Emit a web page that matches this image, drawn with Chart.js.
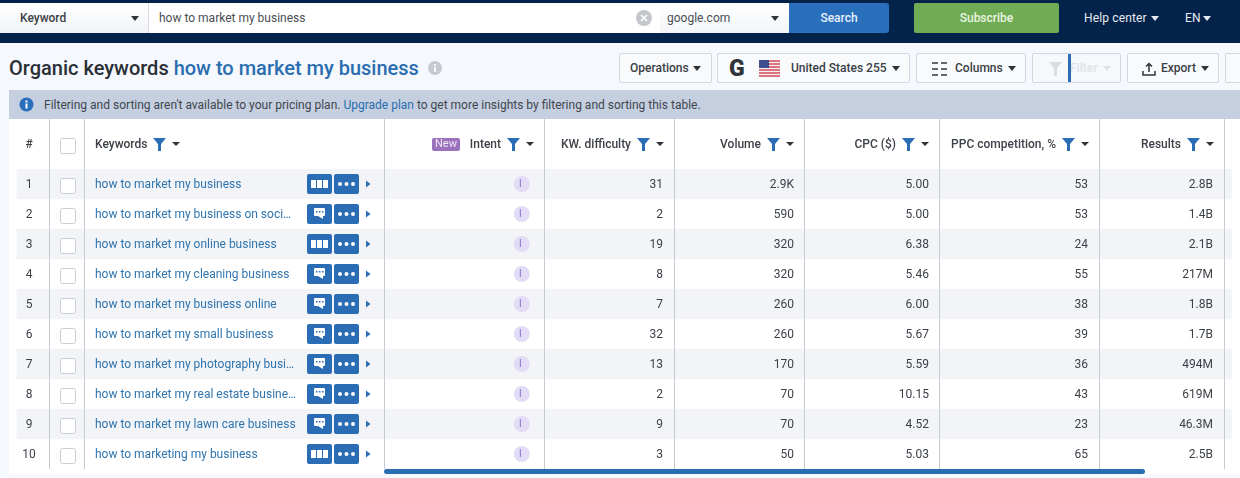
<!DOCTYPE html>
<html>
<head>
<meta charset="utf-8">
<title>Organic keywords</title>
<script src="https://cdn.jsdelivr.net/npm/chart.js@4/dist/chart.umd.js"></script>
<style>
  html, body { margin: 0; padding: 0; }
  body { width: 1240px; height: 478px; overflow: hidden; position: relative; background: #f5f8fc; font-family: Roboto, sans-serif; font-size: 12px; color: #33383f; }
  .abs { position: absolute; box-sizing: border-box; white-space: nowrap; }
  .mid { display: flex; align-items: center; }
  .topbar { left: 0; top: 0; width: 1240px; height: 43px; background: #03234b; }
  .field { top: 3px; height: 30px; background: #fff; }
  .btn { top: 53px; height: 30px; background: #f8fafc; border: 1px solid #d3d8df; border-radius: 2px; font-weight: 500; color: #3a3f46; }
  .arrow { position: absolute; width: 0; height: 0; border-left: 4.5px solid transparent; border-right: 4.5px solid transparent; border-top: 5px solid #2f343a; }
  #chart { position: absolute; left: 0; top: 0; }
</style>
</head>
<body>
<div class="abs topbar"></div>
<div class="abs field mid" style="left:149px;width:511px;padding-left:10px;color:#4a4f55">how to market my business
  <svg style="position:absolute;left:487px;top:7px" width="16" height="16"><circle cx="8" cy="8" r="8" fill="#c4c7cc"/><path d="M5 5l6 6M11 5l-6 6" stroke="#fff" stroke-width="1.6"/></svg></div>
<div class="abs field" style="left:0;width:149px;background:linear-gradient(#fff,#f2f4f7);border-right:1px solid #d6dbe2"></div>
<div class="abs mid" style="left:20px;top:3px;height:30px;font-weight:500;color:#3a3f46">Keyword</div>
<i class="arrow" style="left:131px;top:16px"></i>
<div class="abs field mid" style="left:660px;width:129px;padding-left:7px;background:linear-gradient(#fff,#f3f5f8);color:#4a4f55">google.com</div>
<i class="arrow" style="left:771px;top:16px"></i>
<div class="abs field mid" style="left:789px;width:100px;justify-content:center;background:#2a6fbb;color:#e6f0fa;font-weight:500;border-radius:0 3px 3px 0">Search</div>
<div class="abs field mid" style="left:914px;width:145px;justify-content:center;background:#6fac53;color:#e9f4e2;font-weight:500;border-radius:2px">Subscribe</div>
<div class="abs mid" style="left:1084px;top:3px;height:30px;color:#e6ebf2;letter-spacing:.15px">Help center</div>
<i class="arrow" style="left:1151px;top:16px;border-top-color:#e6ebf2"></i>
<div class="abs mid" style="left:1185px;top:3px;height:30px;color:#e6ebf2;letter-spacing:.3px">EN</div>
<i class="arrow" style="left:1203px;top:16px;border-top-color:#e6ebf2"></i>

<div class="abs" style="left:9px;top:55px;font-size:20px;line-height:26px;font-weight:500;color:#2a2f36">Organic keywords <span style="color:#2a6db0">how to market my business</span></div>
<svg class="abs" style="left:428px;top:61px" width="14" height="14"><circle cx="7" cy="7" r="7" fill="#c5c9d0"/><rect x="6" y="6" width="2" height="5" fill="#f5f8fc"/><rect x="6" y="3" width="2" height="2" fill="#f5f8fc"/></svg>

<div class="abs btn mid" style="left:619px;width:93px;padding-left:10px">Operations<i class="arrow" style="left:73px;top:12px"></i></div>
<div class="abs btn mid" style="left:717px;width:193px;padding-left:73px">United States 255<i class="arrow" style="left:174px;top:12px"></i>
  <span style="position:absolute;left:11px;top:1px;font:900 23px Roboto;color:#2f343a">G</span>
  <svg style="position:absolute;left:41px;top:6px" width="21" height="17"><rect width="21" height="17" fill="#f2f2f4"/><path d="M0 1h21M0 4h21M0 7h21M0 10h21M0 13h21M0 16h21" stroke="#d8495a" stroke-width="1.4"/><rect width="10" height="8" fill="#3d4f8f"/></svg></div>
<div class="abs btn mid" style="left:916px;width:110px;padding-left:38px">Columns<i class="arrow" style="left:91px;top:12px"></i>
  <svg style="position:absolute;left:15px;top:8px" width="15" height="14"><path d="M0 1h6M9 1h6M0 7h6M9 7h6M0 13h6M9 13h6" stroke="#33383f" stroke-width="1.6"/></svg></div>
<div class="abs btn mid" style="left:1032px;width:89px;padding-left:37px;color:#dfe3e8;background:#f6f8fb">Filter<i class="arrow" style="left:70px;top:12px;border-top-color:#dfe3e8"></i>
  <svg style="position:absolute;left:16px;top:8px" width="13" height="14"><path d="M0 0h13L8 6v8H5V6z" fill="#d9dde2"/></svg>
  <span style="position:absolute;left:35px;top:0;width:3px;height:28px;background:#2a6db0"></span></div>
<div class="abs btn mid" style="left:1127px;width:92px;padding-left:33px">Export<i class="arrow" style="left:73px;top:12px"></i>
  <svg style="position:absolute;left:14px;top:8px" width="14" height="14"><path d="M7 10V2M4 4.5L7 1.5l3 3M1 9v4h12V9" stroke="#2f343a" stroke-width="1.5" fill="none"/></svg></div>
<div class="abs btn" style="left:1225px;width:30px"></div>

<div class="abs mid" style="left:9px;top:90px;width:1231px;height:29px;background:#c5cfdf;padding-left:35px;color:#3f4650">Filtering and sorting aren't available to your pricing plan.&nbsp;<span style="color:#2a6db0">Upgrade plan</span>&nbsp;to get more insights by filtering and sorting this table.</div>
<svg class="abs" style="left:19px;top:97px" width="15" height="15"><circle cx="7.5" cy="7.5" r="7" fill="#2a6fbb"/><rect x="6.5" y="6.5" width="2" height="5" fill="#fff"/><rect x="6.5" y="3.5" width="2" height="2" fill="#fff"/></svg>

<div class="abs" style="left:9px;top:119px;width:1231px;height:355px;background:#fff"></div>
<canvas id="chart" width="1240" height="478"></canvas>
<div class="abs" style="left:384px;top:469px;width:761px;height:5px;background:#2a6db0;border-radius:2.5px"></div>

<script>
// Table data
const rowLabels = ['1', '2', '3', '4', '5', '6', '7', '8', '9', '10'];
const keywords = [
    'how to market my business',
    'how to market my business on soci…',
    'how to market my online business',
    'how to market my cleaning business',
    'how to market my business online',
    'how to market my small business',
    'how to market my photography busi…',
    'how to market my real estate busine…',
    'how to market my lawn care business',
    'how to marketing my business'
];
const hasSerp = [true, false, true, false, false, false, false, false, false, true];
const intents = ['I', 'I', 'I', 'I', 'I', 'I', 'I', 'I', 'I', 'I'];
const difficulty = [31, 2, 19, 8, 7, 32, 13, 2, 9, 3];
const volume = ['2.9K', '590', '320', '320', '260', '260', '170', '70', '70', '50'];
const cpc = ['5.00', '5.00', '6.38', '5.46', '6.00', '5.67', '5.59', '10.15', '4.52', '5.03'];
const competition = [53, 53, 24, 55, 38, 39, 36, 43, 23, 65];
const results = ['2.8B', '1.4B', '2.1B', '217M', '1.8B', '1.7B', '494M', '619M', '46.3M', '2.5B'];

// Layout, in page pixels: the x scale runs over the whole width of the page
const columnEdges = [49, 84, 384, 544, 674, 804, 939, 1099, 1224];
const tableLeft = 9;
const tableRight = 1240;
const intentX = 520.5;
const headerY = 144;
const textShift = 1;
const numericColumns = [
    { title: 'KW. difficulty', values: difficulty, right: 663, titleRight: 631 },
    { title: 'Volume', values: volume, right: 794, titleRight: 761 },
    { title: 'CPC ($)', values: cpc, right: 929, titleRight: 896 },
    { title: 'PPC competition, %', values: competition, right: 1088, titleRight: 1056 },
    { title: 'Results', values: results, right: 1213, titleRight: 1181 }
];

const BLUE = '#2a6db5';

function drawText(ctx, text, x, y, font, color, align) {
    ctx.font = font;
    ctx.fillStyle = color;
    ctx.textAlign = align || 'left';
    ctx.textBaseline = 'middle';
    ctx.fillText(text, x, y + textShift);
}

function drawFilter(ctx, x, y) {
    // blue funnel and the dark sort arrow next to it
    ctx.fillStyle = BLUE;
    ctx.beginPath();
    ctx.moveTo(x, y - 6);
    ctx.lineTo(x + 13, y - 6);
    ctx.lineTo(x + 8, y);
    ctx.lineTo(x + 8, y + 7);
    ctx.lineTo(x + 5, y + 7);
    ctx.lineTo(x + 5, y);
    ctx.closePath();
    ctx.fill();
    ctx.fillStyle = '#2f343a';
    ctx.beginPath();
    ctx.moveTo(x + 19, y - 2);
    ctx.lineTo(x + 27, y - 2);
    ctx.lineTo(x + 23, y + 2);
    ctx.closePath();
    ctx.fill();
}

function drawCheckbox(ctx, x, y) {
    ctx.fillStyle = '#fff';
    ctx.strokeStyle = '#c9cdd4';
    ctx.lineWidth = 1;
    ctx.beginPath();
    ctx.roundRect(x + 0.5, y - 7.5, 15, 15, 2);
    ctx.fill();
    ctx.stroke();
}

function drawRowButtons(ctx, y, serp) {
    ctx.fillStyle = BLUE;
    ctx.beginPath();
    ctx.roundRect(307, y - 10, 25, 20, 2);
    ctx.roundRect(334, y - 10, 25, 20, 2);
    ctx.fill();
    ctx.fillStyle = '#fff';
    if (serp) {
        [311, 317, 323].forEach(x => ctx.fillRect(x, y - 4, 5, 8));
    } else {
        ctx.beginPath();
        ctx.roundRect(314, y - 6, 11, 8, 1);
        ctx.moveTo(318, y + 2);
        ctx.lineTo(323, y + 2);
        ctx.lineTo(323, y + 5);
        ctx.closePath();
        ctx.fill();
        ctx.fillStyle = BLUE;
        [316, 319, 322].forEach(x => ctx.fillRect(x, y - 3, 1.5, 1.5));
        ctx.fillStyle = '#fff';
    }
    [340, 346.5, 353].forEach(x => {
        ctx.beginPath();
        ctx.arc(x, y, 2, 0, Math.PI * 2);
        ctx.fill();
    });
    ctx.fillStyle = BLUE;
    ctx.beginPath();
    ctx.moveTo(366, y - 3.5);
    ctx.lineTo(370.5, y);
    ctx.lineTo(366, y + 3.5);
    ctx.closePath();
    ctx.fill();
}

// Draws the header row, dividers and cell contents at the scale positions
const tablePlugin = {
    id: 'tableCells',
    afterDatasetsDraw(chart) {
        const ctx = chart.ctx;
        const yScale = chart.scales.y;
        const bottom = chart.chartArea.bottom;
        const bodyFont = '400 12px Roboto';
        const headFont = '500 12px Roboto';
        const textColor = '#3c4148';
        ctx.save();

        ctx.strokeStyle = '#c5cad3';
        ctx.lineWidth = 1;
        columnEdges.forEach(x => {
            ctx.beginPath();
            ctx.moveTo(x + 0.5, 119);
            ctx.lineTo(x + 0.5, bottom);
            ctx.stroke();
        });

        // header
        drawText(ctx, '#', 29, headerY, headFont, textColor, 'center');
        drawCheckbox(ctx, 60, headerY + 2);
        drawText(ctx, 'Keywords', 95, headerY, headFont, textColor);
        drawFilter(ctx, 153, headerY);
        ctx.fillStyle = '#9b72bd';
        ctx.beginPath();
        ctx.roundRect(432, 138, 28, 13, 2);
        ctx.fill();
        drawText(ctx, 'New', 446, headerY - 0.5, '400 11px Roboto', '#f0e8f6', 'center');
        drawText(ctx, 'Intent', 501, headerY, headFont, textColor, 'right');
        drawFilter(ctx, 507, headerY);
        numericColumns.forEach(col => {
            drawText(ctx, col.title, col.titleRight, headerY, headFont, textColor, 'right');
            drawFilter(ctx, col.titleRight + 6, headerY);
        });

        // rows
        rowLabels.forEach((label, i) => {
            const y = yScale.getPixelForValue(i);
            drawText(ctx, label, 29, y, bodyFont, textColor, 'center');
            drawCheckbox(ctx, 60, y + 2);
            drawText(ctx, keywords[i], 95, y, bodyFont, '#2f74ad');
            drawRowButtons(ctx, y, hasSerp[i]);
            drawText(ctx, intents[i], intentX, y - 1, '500 10px Roboto', '#9a84d0', 'center');
            numericColumns.forEach(col => {
                drawText(ctx, String(col.values[i]), col.right, y, bodyFont, textColor, 'right');
            });
        });
        ctx.restore();
    }
};

new Chart(document.getElementById('chart'), {
    data: {
        labels: rowLabels,
        datasets: [
            {
                type: 'line',
                label: 'Intent',
                data: rowLabels.map(label => ({ x: intentX, y: label })),
                showLine: false,
                pointRadius: 8,
                pointBorderWidth: 0,
                pointBackgroundColor: '#e3dcf6',
                order: 1
            },
            {
                type: 'bar',
                label: 'Rows',
                data: rowLabels.map(label => ({ x: [tableLeft, tableRight], y: label })),
                backgroundColor: rowLabels.map((label, i) => i % 2 === 0 ? '#f2f4f8' : 'rgba(255,255,255,0)'),
                barPercentage: 1,
                categoryPercentage: 1,
                order: 2
            }
        ]
    },
    options: {
        indexAxis: 'y',
        responsive: false,
        animation: false,
        events: [],
        layout: { padding: { top: 169, bottom: 9, left: 0, right: 0 } },
        plugins: { legend: { display: false }, tooltip: { enabled: false } },
        scales: {
            x: { type: 'linear', min: 0, max: 1240, display: false },
            y: { type: 'category', display: false }
        }
    },
    plugins: [tablePlugin]
});
</script>
</body>
</html>
